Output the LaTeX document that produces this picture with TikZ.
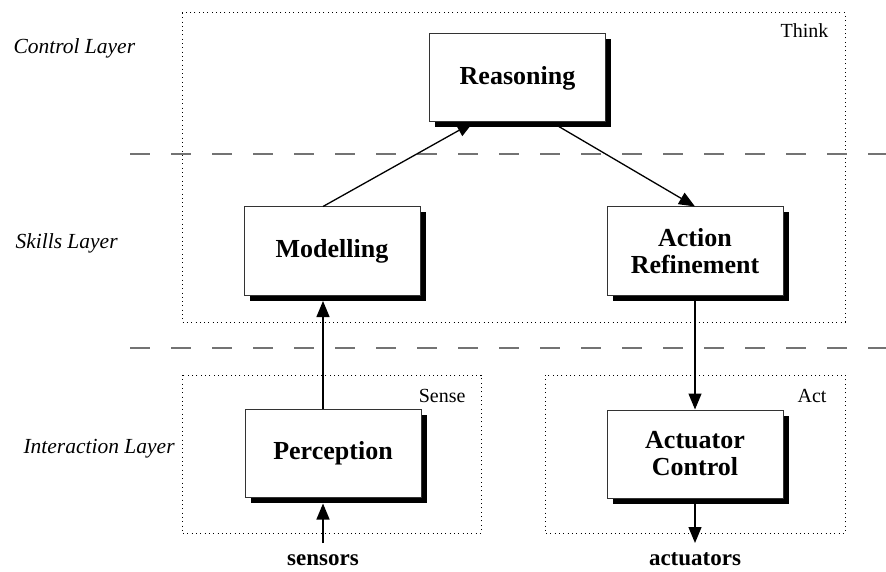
\documentclass[tikz,border=0pt]{standalone}
\usepackage{fontspec}
\setmainfont{Liberation Serif}
\usetikzlibrary{arrows.meta,shadows,calc}

\tikzset{
  block/.style={draw=black!80, line width=1pt, fill=white,
    minimum width=176pt, minimum height=88pt, align=center,
    font=\fontsize{26}{27}\selectfont\bfseries,
    drop shadow={shadow xshift=5.5pt, shadow yshift=-5.5pt, fill=black, opacity=1}},
  region/.style={draw=black, line width=1pt, dash pattern=on 1pt off 3.3pt},
  layerline/.style={draw=black!55, line width=2pt, dash pattern=on 20pt off 21pt},
  arr/.style={line width=1.3pt, -{Triangle[length=16pt,width=13pt]}},
  layerlabel/.style={anchor=base west, font=\fontsize{21.5}{24}\selectfont\itshape},
  regionlabel/.style={anchor=base east, font=\fontsize{20}{22}\selectfont},
  io/.style={anchor=base, font=\fontsize{23}{25}\selectfont\bfseries}
}

\begin{document}
\begin{tikzpicture}[x=1pt, y=-1pt]
  \useasboundingbox (0,0) rectangle (886,572);

  % functional regions
  \draw[region] (182,13) rectangle (845,322);
  \draw[region] (182,375) rectangle (481,533);
  \draw[region] (545,375) rectangle (845,533);
  \node[regionlabel] (think) at (832,38) {Think};
  \node[regionlabel] (sense) at (469,402) {Sense};
  \node[regionlabel] (act) at (830,402) {Act};

  % layer separators
  \draw[layerline] (130,154) -- (886,154);
  \draw[layerline] (130,348) -- (886,348);

  % layer names
  \node[layerlabel] (ctl) at (10,54) {Control Layer};
  \node[layerlabel] (skl) at (12,248) {Skills Layer};
  \node[layerlabel] (itl) at (20,453) {Interaction Layer};

  % processing blocks
  \node[block] (r) at (517.5,78) {Reasoning};
  \node[block] (m) at (332,251) {Modelling};
  \node[block] (a) at (695,251) {Action\\Refinement};
  \node[block] (p) at (333,453.5) {Perception};
  \node[block] (c) at (695,454) {Actuator\\Control};

  % inputs and outputs
  \node[io] (sens) at (323,565) {sensors};
  \node[io] (acts) at (695,565) {actuators};
  \coordinate (sin) at (323,543);
  \coordinate (aout) at (695,543);

  % information flow
  \draw[arr] (sin) -- ([yshift=-5.5pt]p.south -| sin);
  \draw[arr] (p.north -| sin) -- ([yshift=-5.5pt]m.south -| sin);
  \draw[arr] (m.north -| sin) -- ([xshift=-44.5pt]r.south);
  \draw[arr] ([xshift=34.5pt]r.south) -- (a.north);
  \draw[arr] ([yshift=-5.5pt]a.south) -- (c.north);
  \draw[arr] ([yshift=-5.5pt]c.south) -- (aout);
\end{tikzpicture}
\end{document}
